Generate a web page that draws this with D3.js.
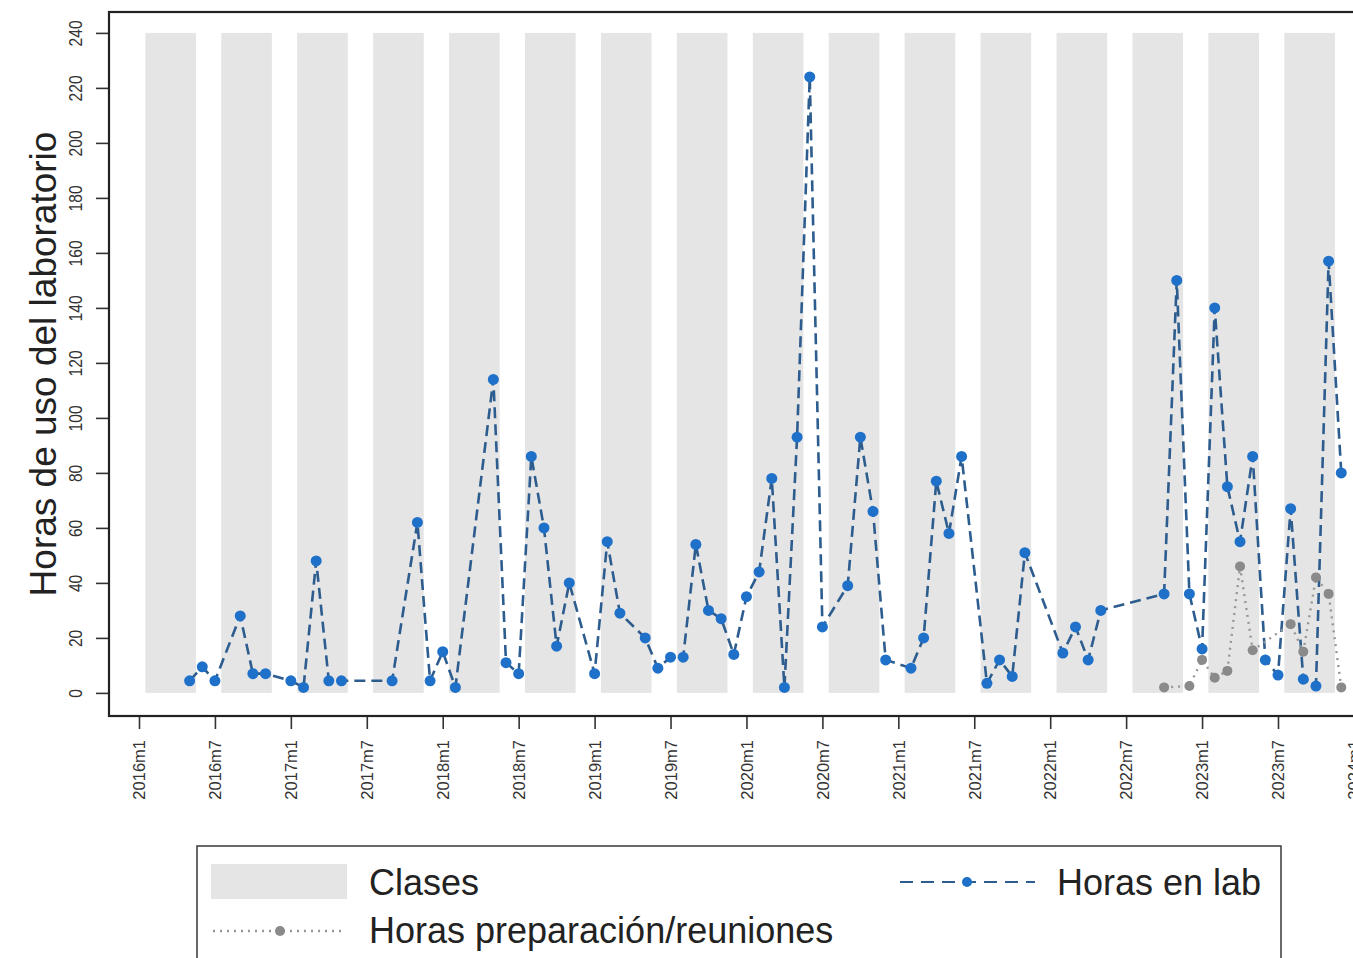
<!DOCTYPE html>
<html lang="es">
<head>
  <meta charset="UTF-8">
  <title>Horas de uso del laboratorio</title>
  <script src="https://d3js.org/d3.v7.min.js"></script>
  <style>
    body { margin: 0; background: #fff; }
    svg { display: block; font-family: "Liberation Sans", Arial, sans-serif; }
  </style>
</head>
<body>
<svg id="chart" width="1353" height="958"></svg>
<script>
// horas en lab (azul)
const labMonths = ["2016m5","2016m6","2016m7","2016m9","2016m10","2016m11",
  "2017m1","2017m2","2017m3","2017m4","2017m5","2017m9","2017m11","2017m12",
  "2018m1","2018m2","2018m5","2018m6","2018m7","2018m8","2018m9","2018m10","2018m11",
  "2019m1","2019m2","2019m3","2019m5","2019m6","2019m7","2019m8","2019m9","2019m10","2019m11","2019m12",
  "2020m1","2020m2","2020m3","2020m4","2020m5","2020m6","2020m7","2020m9","2020m10","2020m11","2020m12",
  "2021m2","2021m3","2021m4","2021m5","2021m6","2021m8","2021m9","2021m10","2021m11",
  "2022m2","2022m3","2022m4","2022m5","2022m10","2022m11","2022m12",
  "2023m1","2023m2","2023m3","2023m4","2023m5","2023m6","2023m7","2023m8","2023m9","2023m10","2023m11","2023m12"];
const labHours = [4.4, 9.5, 4.4, 28, 7, 7,
  4.4, 2, 48, 4.4, 4.4, 4.4, 62, 4.4,
  15, 2, 114, 11, 7, 86, 60, 17, 40,
  7, 55, 29, 20, 9, 13, 13, 54, 30, 27, 14,
  35, 44, 78, 2, 93, 224, 24, 39, 93, 66, 12,
  9, 20, 77, 58, 86, 3.5, 12, 6, 51,
  14.5, 24, 12, 30, 36, 150, 36,
  16, 140, 75, 55, 86, 12, 6.5, 67, 5, 2.5, 157, 80];

// horas preparacion / reuniones (gris)
const prepMonths = ["2022m10","2022m12","2023m1","2023m2","2023m3","2023m4","2023m5",
  "2023m8","2023m9","2023m10","2023m11","2023m12"];
const prepHours = [2, 2.5, 12, 5.5, 8, 46, 15.5, 25, 15, 42, 36, 2];

// periodos de clases (primer y ultimo mes)
const classStart = ["2016m2","2016m8","2017m2","2017m8","2018m2","2018m8","2019m2","2019m8",
  "2020m2","2020m8","2021m2","2021m8","2022m2","2022m8","2023m2","2023m8"];
const classEnd = ["2016m5","2016m11","2017m5","2017m11","2018m5","2018m11","2019m5","2019m11",
  "2020m5","2020m11","2021m5","2021m11","2022m5","2022m11","2023m5","2023m11"];

const xTicks = ["2016m1","2016m7","2017m1","2017m7","2018m1","2018m7","2019m1","2019m7",
  "2020m1","2020m7","2021m1","2021m7","2022m1","2022m7","2023m1","2023m7","2024m1"];
const yTicks = [0, 20, 40, 60, 80, 100, 120, 140, 160, 180, 200, 220, 240];

function monthIdx(s) {
  const p = s.split("m");
  return (+p[0] - 2016) * 12 + (+p[1] - 1);
}

const svg = d3.select("#chart");
const plotLeft = 109, plotTop = 12, plotBottom = 716;
const pxMonth = 1139 / 90;

const x = d3.scaleLinear().domain([-2.37, 98.6]).range([plotLeft, plotLeft + 100.97 * pxMonth]);
const y = d3.scaleLinear().domain([-8.4, 247.6]).range([plotBottom, plotTop]);

// bandas de clases
svg.append("g").selectAll("rect")
  .data(classStart)
  .join("rect")
  .attr("x", d => x(monthIdx(d) - 0.5))
  .attr("width", (d, i) => x(monthIdx(classEnd[i]) + 0.5) - x(monthIdx(d) - 0.5))
  .attr("y", y(240))
  .attr("height", y(0) - y(240))
  .attr("fill", "#e5e5e5");

// ejes
const yAxis = svg.append("g")
  .attr("transform", `translate(${plotLeft},0)`)
  .call(d3.axisLeft(y).tickValues(yTicks).tickSize(13).tickFormat(d => d));
yAxis.select(".domain").remove();
yAxis.selectAll("line").attr("stroke", "#333").attr("stroke-width", 1.6);
yAxis.selectAll("text")
  .attr("transform", "rotate(-90)")
  .attr("x", 0).attr("y", -34).attr("dy", "0.35em")
  .attr("text-anchor", "middle")
  .attr("font-size", 19)
  .attr("textLength", d => String(d).length * 8.7)
  .attr("lengthAdjust", "spacingAndGlyphs")
  .attr("fill", "#333");

const xAxis = svg.append("g")
  .attr("transform", `translate(0,${plotBottom})`)
  .call(d3.axisBottom(x).tickValues(xTicks.map(monthIdx)).tickSize(13)
    .tickFormat((d, i) => xTicks[i]));
xAxis.select(".domain").remove();
xAxis.selectAll("line").attr("stroke", "#333").attr("stroke-width", 1.6);
xAxis.selectAll("text")
  .attr("transform", "rotate(-90)")
  .attr("x", -24).attr("y", 0).attr("dy", "0.35em")
  .attr("text-anchor", "end")
  .attr("font-size", 16.5)
  .attr("fill", "#333");

// caja
svg.append("rect")
  .attr("x", plotLeft).attr("y", plotTop)
  .attr("width", 1400).attr("height", plotBottom - plotTop)
  .attr("fill", "none").attr("stroke", "#222").attr("stroke-width", 2.2);

const labData = labMonths.map((m, i) => ({ m: monthIdx(m), v: labHours[i] }));
const prepData = prepMonths.map((m, i) => ({ m: monthIdx(m), v: prepHours[i] }));
const line = d3.line().x(d => x(d.m)).y(d => y(d.v));

const blueLine = "#2d5c8e", blueDot = "#1e70c9", grayDot = "#8a8a8a";

svg.append("path").datum(labData)
  .attr("d", line).attr("fill", "none")
  .attr("stroke", blueLine).attr("stroke-width", 2.6)
  .attr("stroke-dasharray", "11,6");
svg.append("g").selectAll("circle").data(labData).join("circle")
  .attr("cx", d => x(d.m)).attr("cy", d => y(d.v)).attr("r", 5.5)
  .attr("fill", blueDot);

svg.append("path").datum(prepData)
  .attr("d", line).attr("fill", "none")
  .attr("stroke", "#979797").attr("stroke-width", 2.4)
  .attr("stroke-dasharray", "2,5");
svg.append("g").selectAll("circle").data(prepData).join("circle")
  .attr("cx", d => x(d.m)).attr("cy", d => y(d.v)).attr("r", 5)
  .attr("fill", grayDot);

// etiqueta eje y
svg.append("text")
  .attr("transform", `translate(56,${(plotTop + plotBottom) / 2}) rotate(-90)`)
  .attr("text-anchor", "middle")
  .attr("font-size", 37)
  .attr("fill", "#222")
  .text("Horas de uso del laboratorio");

// leyenda
const lg = svg.append("g");
lg.append("rect").attr("x", 197).attr("y", 846).attr("width", 1084).attr("height", 140)
  .attr("fill", "#fff").attr("stroke", "#444").attr("stroke-width", 1.6);
lg.append("rect").attr("x", 211).attr("y", 864).attr("width", 136).attr("height", 35)
  .attr("fill", "#e5e5e5");
lg.append("text").attr("x", 369).attr("y", 895).attr("font-size", 36).attr("fill", "#222").text("Clases");
lg.append("line").attr("x1", 900).attr("x2", 1035).attr("y1", 882).attr("y2", 882)
  .attr("stroke", blueLine).attr("stroke-width", 2.2).attr("stroke-dasharray", "13,8");
lg.append("circle").attr("cx", 967).attr("cy", 882).attr("r", 5).attr("fill", blueDot);
lg.append("text").attr("x", 1057).attr("y", 895).attr("font-size", 36).attr("fill", "#222").text("Horas en lab");
lg.append("line").attr("x1", 213).attr("x2", 345).attr("y1", 931).attr("y2", 931)
  .attr("stroke", "#979797").attr("stroke-width", 2.4).attr("stroke-dasharray", "2,5");
lg.append("circle").attr("cx", 280).attr("cy", 931).attr("r", 5).attr("fill", grayDot);
lg.append("text").attr("x", 369).attr("y", 943).attr("font-size", 36).attr("fill", "#222").text("Horas preparación/reuniones");
</script>
</body>
</html>
